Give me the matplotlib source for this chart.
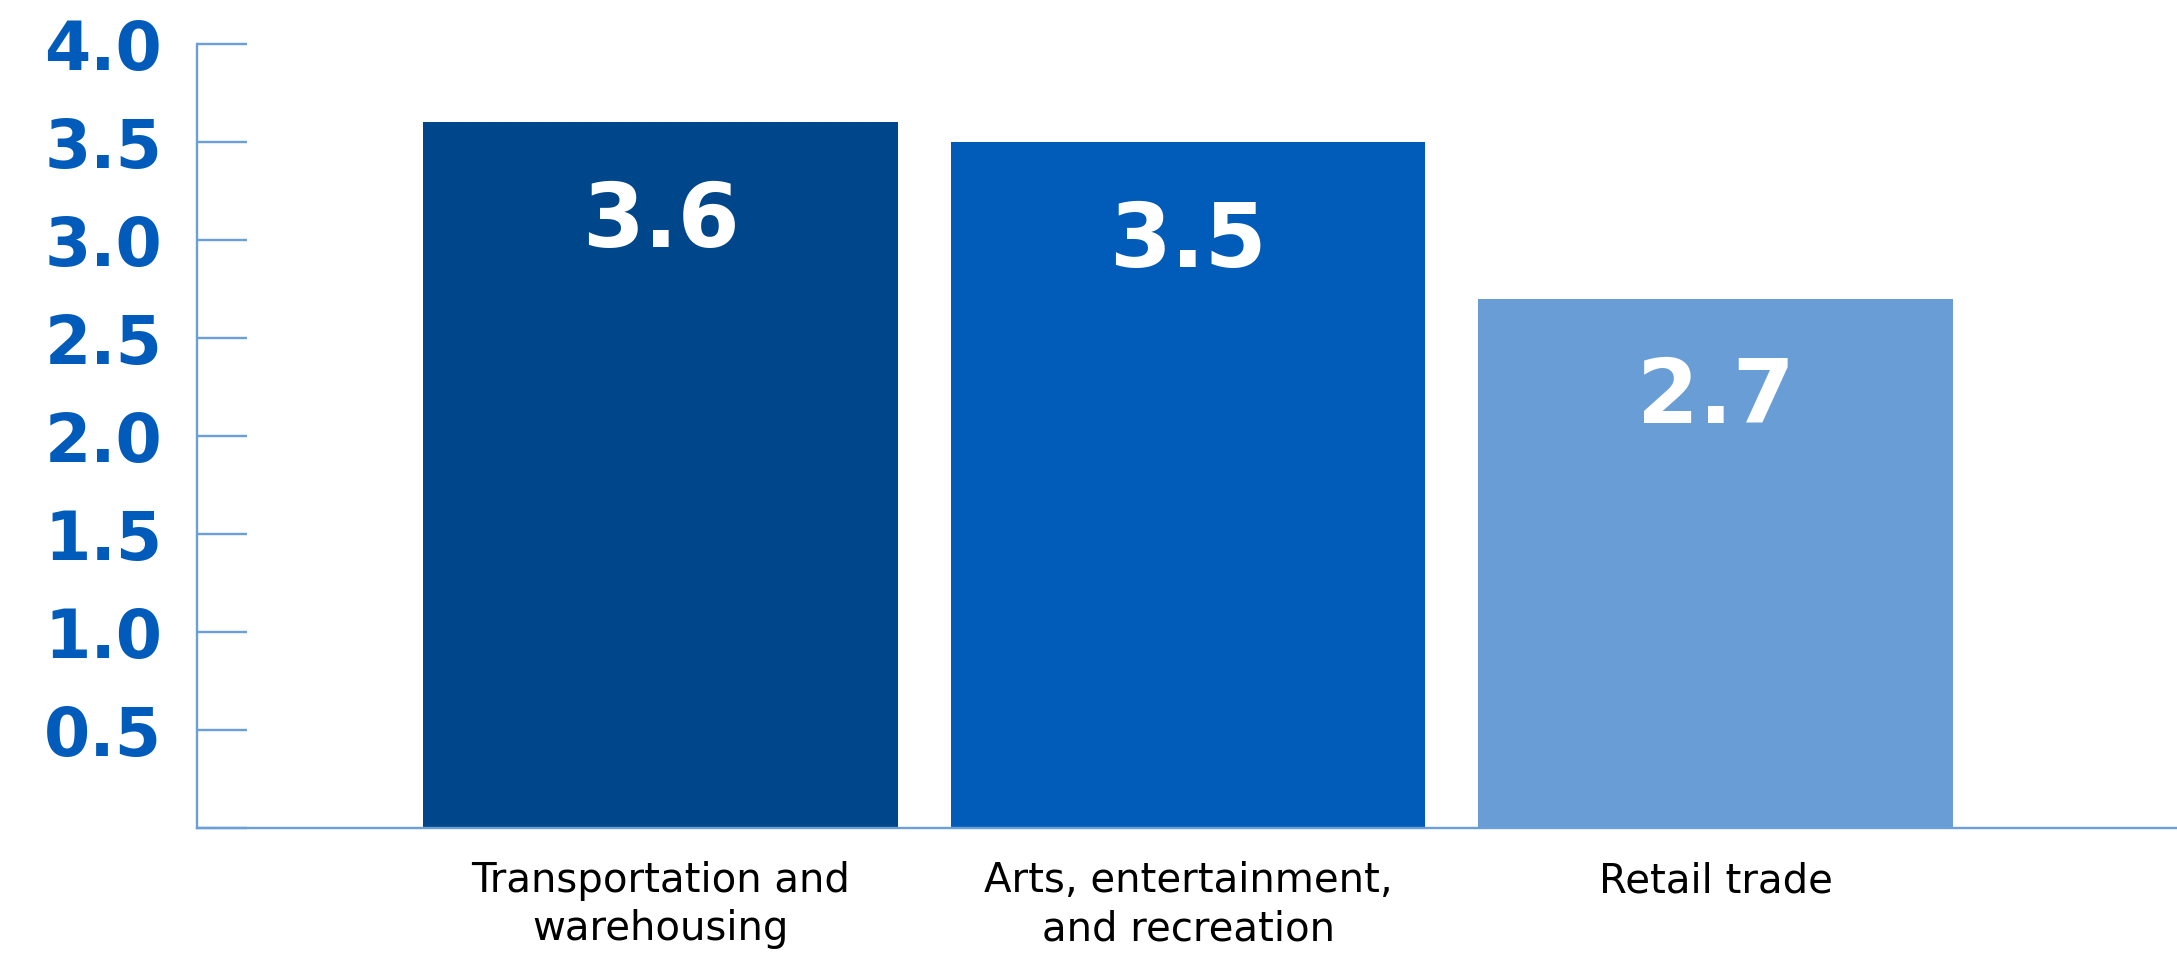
import matplotlib
matplotlib.use("Agg")
import matplotlib.pyplot as plt
import numpy as np

# Data
categories = ["Transportation and\nwarehousing",
              "Arts, entertainment,\nand recreation",
              "Retail trade"]
values = [3.6, 3.5, 2.7]
value_labels = ["3.6", "3.5", "2.7"]
bar_colors = ["#00468B", "#005BB9", "#699DD6"]
y_ticks = [0.0, 0.5, 1.0, 1.5, 2.0, 2.5, 3.0, 3.5, 4.0]
y_tick_labels = ["", "0.5", "1.0", "1.5", "2.0", "2.5", "3.0", "3.5", "4.0"]

axis_color = "#6A9FD8"
tick_text_color = "#005BBB"

fig = plt.figure(figsize=(21.77, 9.57), dpi=100)
ax = fig.add_axes([197 / 2177, 129 / 957, (2177 - 197) / 2177, (828 - 44) / 957])

x = np.arange(len(categories))
bars = ax.bar(x, values, width=0.9, color=bar_colors, zorder=1)

ax.set_xlim(-0.879, 2.875)
ax.set_ylim(0, 4.0)

# Spines
for side in ("top", "right"):
    ax.spines[side].set_visible(False)
for side in ("left", "bottom"):
    ax.spines[side].set_color(axis_color)
    ax.spines[side].set_linewidth(1.7)
    ax.spines[side].set_zorder(3)

# Y axis ticks and labels
ax.set_yticks(y_ticks)
ax.set_yticklabels(y_tick_labels)
ax.tick_params(axis="y", direction="in", length=36, width=1.7, color=axis_color,
               pad=25, labelsize=48, labelcolor=tick_text_color)
for t in ax.get_yticklabels():
    t.set_fontweight("bold")
    t.set_family("DejaVu Sans")

# X axis category labels
ax.set_xticks(x)
ax.set_xticklabels(categories)
ax.tick_params(axis="x", length=0, pad=24, labelsize=29, labelcolor="#000000")
for t in ax.get_xticklabels():
    t.set_linespacing(1.25)
    t.set_family("DejaVu Sans")

# Value labels inside bars
for xi, v, lab in zip(x, values, value_labels):
    ax.annotate(lab, xy=(xi, v), xytext=(0, -72), textcoords="offset points",
                ha="center", va="center", color="white", fontsize=64,
                fontweight="bold", family="DejaVu Sans", zorder=4)

fig.savefig("out.png", dpi=100)
